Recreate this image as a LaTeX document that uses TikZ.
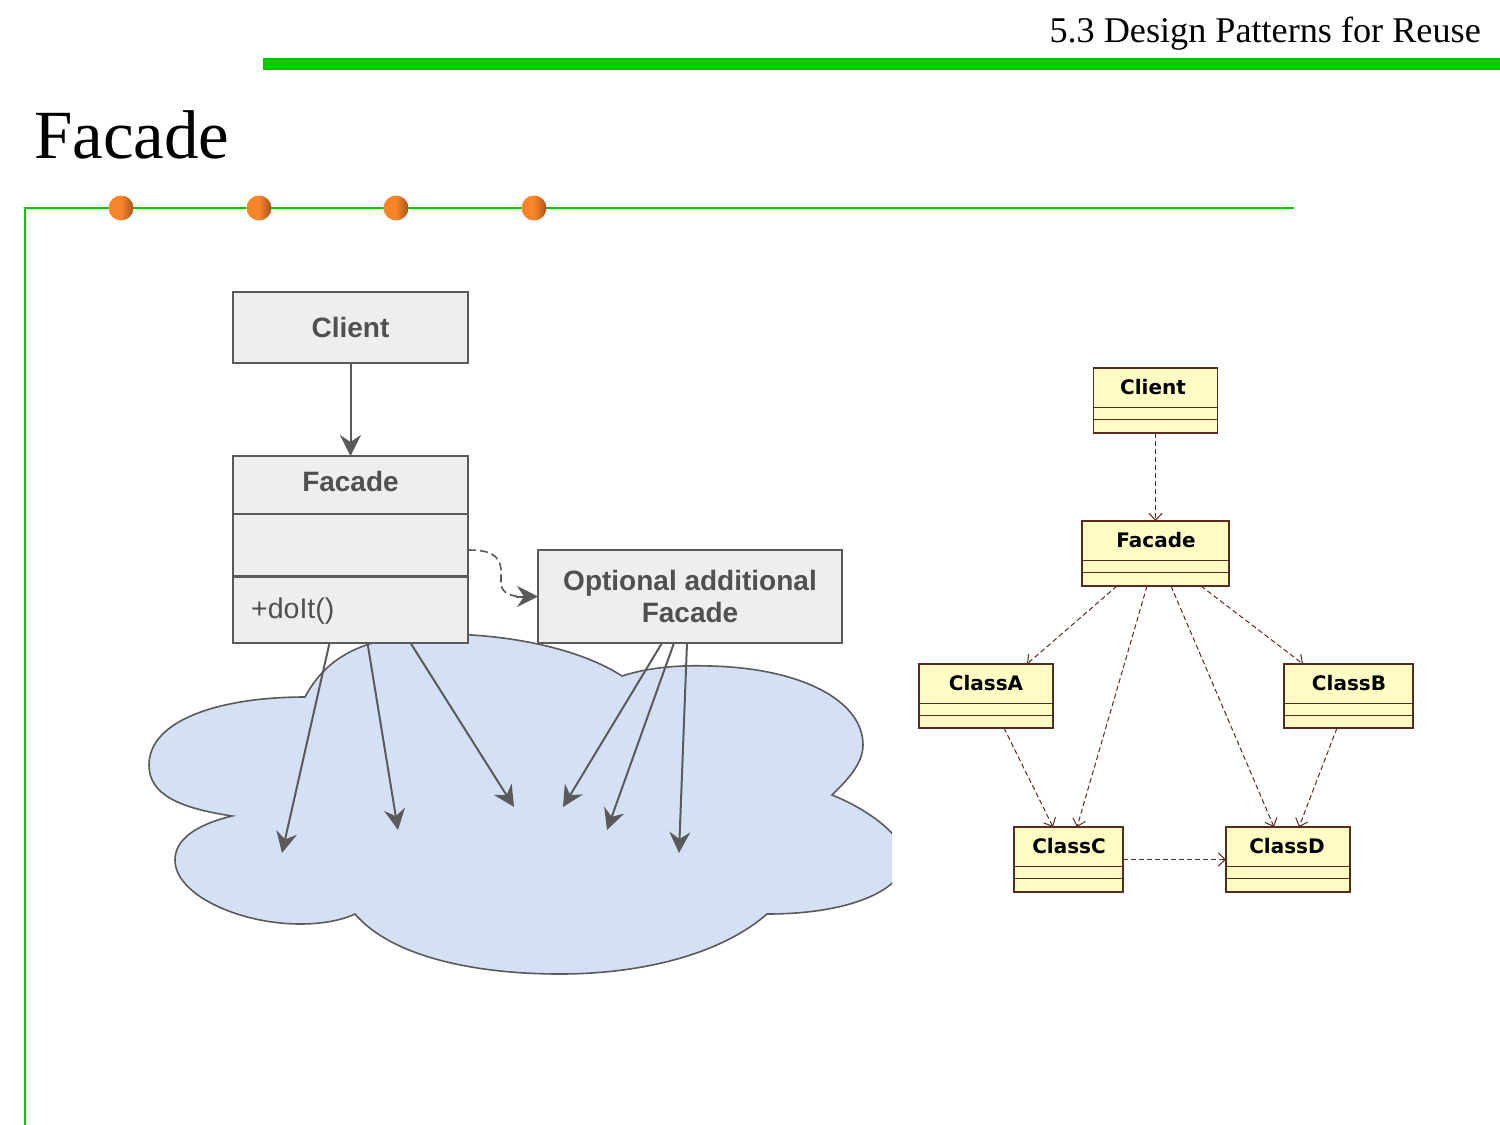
\documentclass[tikz,border=0pt]{standalone}
\usepackage{fontspec}
\setmainfont{Liberation Serif}
\newfontfamily\lsans{Liberation Sans}
\newfontfamily\dsans{DejaVu Sans}
\usetikzlibrary{arrows.meta}
\definecolor{barG}{HTML}{00CC00}
\definecolor{lineL}{HTML}{5A5A5A}
\definecolor{fillL}{HTML}{EEEEEE}
\definecolor{textL}{HTML}{505050}
\definecolor{cloudF}{HTML}{D4E1F5}
\definecolor{fillR}{HTML}{FFFDC4}
\definecolor{lineR}{HTML}{5A2A1E}
\definecolor{ballA}{HTML}{F8852A}
\definecolor{ballB}{HTML}{A5541C}
\tikzset{
  lbox/.style={draw=lineL,fill=fillL,line width=2pt,rectangle,inner sep=0pt,outer sep=0pt},
  rbox/.style={draw=lineR,fill=fillR,line width=1.5pt,rectangle,inner sep=0pt,outer sep=0pt},
  ltext/.style={inner sep=0pt,outer sep=0pt,text=textL,font=\lsans\bfseries\fontsize{28}{32}\selectfont,align=center},
  rtext/.style={inner sep=0pt,outer sep=0pt,text=black,font=\dsans\bfseries\fontsize{20}{24}\selectfont},
  larrow/.style={draw=lineL,line width=2pt,-{Stealth[length=21pt,width=21pt,inset=7pt]}},
  rarrow/.style={draw=lineR,line width=1pt,dash pattern=on 5pt off 3pt,-{Straight Barb[length=7pt,width=13pt]}},
  ball/.style={circle,minimum size=25pt,inner sep=0pt,left color=ballA,right color=ballB,middle color=ballA},
}
\begin{document}
\begin{tikzpicture}[x=1pt,y=-1pt]
\useasboundingbox (0,0) rectangle (1500,1125);
% frame
\fill[barG] (263,58) rectangle (1500,70);
\draw[barG,line width=2pt] (1294,208) -- (25,208) -- (25,1125);
\node[inner sep=0pt,anchor=base east,font=\fontsize{36.2}{40}\selectfont] (hdr) at (1481,42) {5.3 Design Patterns for Reuse};
\node[inner sep=0pt,anchor=base west,font=\fontsize{69}{80}\selectfont] (ttl) at (34,158) {Facade};
\node[ball] (b1) at (121,208) {};
\node[ball] (b2) at (259,208) {};
\node[ball] (b3) at (396,208) {};
\node[ball] (b4) at (534,208) {};
% cloud
\begin{scope}
\clip (100,600) rectangle (892,1000);
\draw[draw=lineL,fill=cloudF,line width=1.6pt]
 (305,697) .. controls (330,650) and (375,634) .. (450,634)
 .. controls (530,636) and (590,655) .. (622,676)
 .. controls (650,667) and (680,665) .. (710,666)
 .. controls (800,668) and (863,700) .. (863,745)
 .. controls (863,765) and (845,782) .. (832,795)
 .. controls (865,808) and (905,835) .. (905,860)
 .. controls (905,885) and (860,914) .. (767,914)
 .. controls (720,955) and (640,974) .. (560,974)
 .. controls (470,974) and (390,955) .. (355,914)
 .. controls (340,921) and (320,924) .. (300,924)
 .. controls (240,924) and (175,895) .. (175,860)
 .. controls (175,840) and (195,825) .. (232,816)
 .. controls (180,808) and (149,795) .. (149,765)
 .. controls (149,720) and (220,697) .. (305,697) -- cycle;
\end{scope}
% left diagram
\node[lbox,minimum width=235pt,minimum height=71pt,ltext] (lclient) at (350.5,327.5) {Client};
\node[lbox,minimum width=235pt,minimum height=187pt] (lfacade) at (350.5,549.5) {};
\draw[draw=lineL,line width=2pt] ([yshift=-58pt]lfacade.north west) -- ([yshift=-58pt]lfacade.north east);
\draw[draw=lineL,line width=3pt] ([yshift=-120pt]lfacade.north west) -- ([yshift=-120pt]lfacade.north east);
\node[ltext] (lfacadet) at (350.5,481.5) {Facade};
\node[inner sep=0pt,anchor=west,text=textL,font=\lsans\fontsize{28.5}{32}\selectfont] (ldoit) at (251,611) {+doIt()};
\node[lbox,minimum width=304pt,minimum height=93pt,ltext] (lopt) at (690,596.5) {Optional additional\\Facade};
\coordinate (la) at (282,853);
\coordinate (lb) at (398,830);
\coordinate (lc) at (514,807);
\coordinate (ld) at (563,807);
\coordinate (le) at (607,830);
\coordinate (lf) at (679,853);
\draw[larrow] (lclient.south) -- (lfacade.north);
\draw[larrow] ([xshift=-21pt]lfacade.south) -- (la);
\draw[larrow] ([xshift=17pt]lfacade.south) -- (lb);
\draw[larrow] ([xshift=60pt]lfacade.south) -- (lc);
\draw[larrow] ([xshift=-28pt]lopt.south) -- (ld);
\draw[larrow] ([xshift=-16pt]lopt.south) -- (le);
\draw[larrow] ([xshift=-3pt]lopt.south) -- (lf);
\draw[draw=lineL,line width=1.6pt,dash pattern=on 8pt off 4pt] ([yshift=-94pt]lfacade.north east) .. controls +(20,0) and +(-1,-16) .. (501,570) -- (501,582) .. controls (501,592) and (508,595) .. (518,596.5);
\coordinate (loptw) at (lopt.west);
\draw[larrow] (516,596.5) -- (loptw);
% right diagram
\node[rbox,minimum width=124pt,minimum height=65pt] (rclient) at (1155.5,400.5) {};
\node[rbox,minimum width=147pt,minimum height=65pt] (rfacade) at (1155.5,553.5) {};
\node[rbox,minimum width=134pt,minimum height=64pt] (rclassa) at (986,696) {};
\node[rbox,minimum width=129pt,minimum height=64pt] (rclassb) at (1348.5,696) {};
\node[rbox,minimum width=109pt,minimum height=65pt] (rclassc) at (1068.5,859.5) {};
\node[rbox,minimum width=124pt,minimum height=65pt] (rclassd) at (1288,859.5) {};
\foreach \n in {rclient,rfacade,rclassa,rclassb,rclassc,rclassd}{
  \draw[draw=lineR,line width=1.2pt] ([yshift=-39.5pt]\n.north west) -- ([yshift=-39.5pt]\n.north east);
  \draw[draw=lineR,line width=1.2pt] ([yshift=-51.5pt]\n.north west) -- ([yshift=-51.5pt]\n.north east);
}
\node[rtext] (tclient) at (1153,387) {Client};
\node[rtext] (tfacade) at (1156,540) {Facade};
\node[rtext] (tclassa) at (986,683) {ClassA};
\node[rtext] (tclassb) at (1349,683) {ClassB};
\node[rtext] (tclassc) at (1069,846) {ClassC};
\node[rtext] (tclassd) at (1287,846) {ClassD};
\draw[rarrow] (rclient.south) -- (rfacade.north);
\draw[rarrow] ([xshift=-38.5pt]rfacade.south) -- ([xshift=41pt]rclassa.north);
\draw[rarrow] ([xshift=-8.5pt]rfacade.south) -- ([xshift=8.5pt]rclassc.north);
\draw[rarrow] ([xshift=15.5pt]rfacade.south) -- ([xshift=-14pt]rclassd.north);
\draw[rarrow] ([xshift=45.5pt]rfacade.south) -- ([xshift=-45.5pt]rclassb.north);
\draw[rarrow] ([xshift=18pt]rclassa.south) -- ([xshift=-15.5pt]rclassc.north);
\draw[rarrow] ([xshift=-11.5pt]rclassb.south) -- ([xshift=11pt]rclassd.north);
\draw[rarrow] (rclassc.east) -- (rclassd.west);
\end{tikzpicture}
\end{document}
